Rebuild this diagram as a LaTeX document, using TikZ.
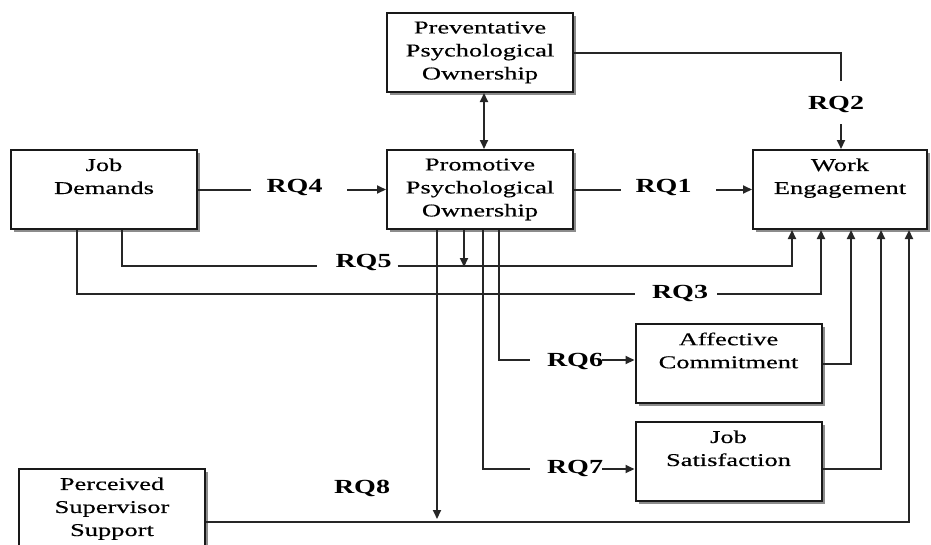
\documentclass[tikz,border=0pt]{standalone}
\usepackage{fontspec}
\setmainfont{Liberation Serif}
\newfontfamily\boxfont[FakeStretch=1.47,FakeBold=0.4]{Liberation Serif}
\newfontfamily\rqfont[FakeStretch=1.4]{Liberation Serif}
\usetikzlibrary{arrows.meta,shadows,calc}

\begin{document}
\begin{tikzpicture}[x=1pt,y=-1pt,
  box/.style={draw=black!90, line width=2pt, fill=white,
    minimum width=186pt, minimum height=79pt, inner sep=0pt,
    drop shadow={shadow xshift=3pt, shadow yshift=-3pt, fill=black!45, opacity=1}},
  boxtext/.style={anchor=north, inner sep=0pt, align=center,
    font=\boxfont\fontsize{18}{23}\selectfont},
  rq/.style={anchor=base, inner sep=0pt,
    font=\rqfont\bfseries\fontsize{20}{24}\selectfont},
  conn/.style={draw=black!85, line width=2pt},
  arr/.style={conn, -{Triangle[length=9pt,width=8pt]}},
  biarr/.style={conn, {Triangle[length=9pt,width=8pt]}-{Triangle[length=9pt,width=8pt]}},
]
\clip (0,0) rectangle (931,544);

% boxes
\node[box] (prev)  at (480,52.5)   {};
\node[box] (promo) at (480,189.5)  {};
\node[box] (jd)    at (104,189.5)  {};
\node[box, minimum width=174pt] (we) at (840,189.5) {};
\node[box] (ac)    at (728.5,363.5) {};
\node[box] (js)    at (728.5,461.5) {};
\node[box] (pss)   at (112,508.5)  {};

% box labels
\node[boxtext] (prevtxt)  at ($(prev.north)+(0,9.3)$)  {Preventative\\Psychological\\Ownership};
\node[boxtext] (promotxt) at ($(promo.north)+(0,9.3)$) {Promotive\\Psychological\\Ownership};
\node[boxtext] (jdtxt)    at ($(jd.north)+(0,9.3)$)    {Job\\Demands};
\node[boxtext] (wetxt)    at ($(we.north)+(0,9.3)$)    {Work\\Engagement};
\node[boxtext] (actxt)    at ($(ac.north)+(0,9.3)$)    {Affective\\Commitment};
\node[boxtext] (jstxt)    at ($(js.north)+(0,9.3)$)    {Job\\Satisfaction};
\node[boxtext] (psstxt)   at ($(pss.north)+(0,9.3)$)   {Perceived\\Supervisor\\Support};

% research question labels
\node[rq] (rq1) at (663.5,192) {RQ1};
\node[rq] (rq2) at (836,109)   {RQ2};
\node[rq] (rq3) at (680,298)   {RQ3};
\node[rq] (rq4) at (294.5,192) {RQ4};
\node[rq] (rq5) at (363.5,267) {RQ5};
\node[rq] (rq6) at (575,366)   {RQ6};
\node[rq] (rq7) at (575,473)   {RQ7};
\node[rq] (rq8) at (362,493)   {RQ8};

% preventative <-> promotive
\draw[biarr] ([xshift=4pt]prev.south) -- ([xshift=4pt]promo.north);

% RQ2: preventative -> work engagement
\draw[conn] (prev.east) -| ($(we.north)+(1,-68)$);
\draw[arr] ($(we.north)+(1,-25)$) -- ($(we.north)+(1,0)$);

% RQ4: job demands -> promotive
\draw[conn] (jd.east) -- ++(53,0);
\draw[arr] ($(promo.west)+(-39,0)$) -- (promo.west);

% RQ1: promotive -> work engagement
\draw[conn] (promo.east) -- ++(47,0);
\draw[arr] ($(we.west)+(-36,0)$) -- (we.west);

% RQ5: job demands -> work engagement, moderated by promotive
\draw[conn] ($(jd.south)+(18,0)$) |- ($(rq5.base west)+(-18,-1)$);
\draw[arr] ($(rq5.base east)+(6,-1)$) -| ($(we.south)+(-48,0)$);
\coordinate (mod5) at ($(promo.south)+(-16,37)$);
\draw[arr] ($(promo.south)+(-16,0)$) -- (mod5);

% RQ3: job demands -> work engagement
\draw[conn] ($(jd.south)+(-27,0)$) |- ($(rq3.base west)+(-17,-4)$);
\draw[arr] ($(rq3.base east)+(9,-4)$) -| ($(we.south)+(-19,0)$);

% RQ6: promotive -> affective commitment
\draw[conn] ($(promo.south)+(19,0)$) |- ($(rq6.base west)+(-17,-6)$);
\coordinate (a6) at ($(rq6.base east)+(-1,-6)$);
\draw[arr] (a6) -- (a6 -| ac.west);

% RQ7: promotive -> job satisfaction
\draw[conn] ($(promo.south)+(3,0)$) |- ($(rq7.base west)+(-17,-4)$);
\coordinate (a7) at ($(rq7.base east)+(-1,-4)$);
\draw[arr] (a7) -- (a7 -| js.west);

% RQ8: promotive moderates supervisor support -> work engagement
\coordinate (mod8) at ($(promo.south)+(-43,289)$);
\draw[arr] ($(promo.south)+(-43,0)$) -- (mod8);

% outcomes -> work engagement
\draw[arr] ($(pss.east)+(0,13.5)$) -| ($(we.south)+(69,0)$);
\draw[arr] (ac.east) -| ($(we.south)+(11,0)$);
\draw[arr] ($(js.east)+(0,7.5)$) -| ($(we.south)+(41,0)$);
\end{tikzpicture}
\end{document}
